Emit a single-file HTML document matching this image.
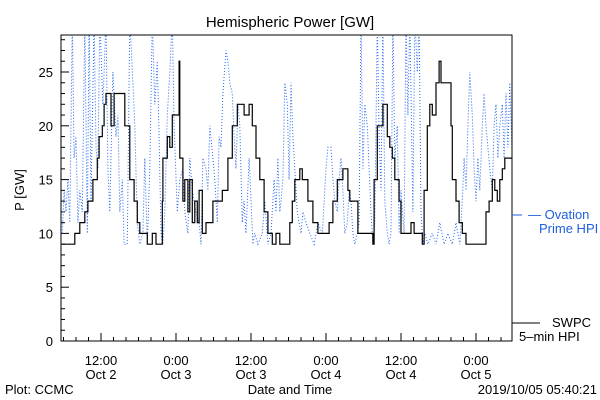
<!DOCTYPE html>
<html><head><meta charset="utf-8"><style>
body{margin:0;background:#fff}
svg{display:block;font-family:"Liberation Sans",sans-serif}
</style></head><body>
<svg id="c" width="600" height="400" viewBox="0 0 600 400">
<rect width="600" height="400" fill="#fff"/>
<text x="290" y="27" font-size="15" text-anchor="middle">Hemispheric Power [GW]</text>
<text transform="translate(24,190) rotate(-90)" font-size="13" text-anchor="middle">P [GW]</text>
<text x="290" y="394" font-size="13" text-anchor="middle">Date and Time</text>
<text x="5" y="394" font-size="13">Plot: CCMC</text>
<text x="597" y="394" font-size="13" text-anchor="end">2019/10/05 05:40:21</text>
<g id="ticks"></g>
<defs><clipPath id="clip"><rect x="61" y="35" width="451" height="306"/></clipPath></defs>
<g clip-path="url(#clip)" id="series"></g>
<rect x="61" y="35" width="451" height="306" fill="none" stroke="#000" stroke-width="1"/>
<line x1="512" y1="215" x2="522" y2="215" stroke="#1f5fe0"/>
<text x="528" y="219" font-size="13" fill="#1f5fe0">— Ovation</text>
<text x="539" y="233" font-size="13" fill="#1f5fe0">Prime HPI</text>
<line x1="512" y1="323" x2="540" y2="323" stroke="#000"/>
<text x="552" y="327" font-size="13">SWPC</text>
<text x="519" y="341" font-size="13">5–min HPI</text>
</svg>
<script>
const yTicks=[0,5,10,15,20,25];
const xTickHours=[6.4,18.4,30.4,42.4,54.4,66.4];
const xTickTimes=["12:00","0:00","12:00","0:00","12:00","0:00"];
const xTickDays=["Oct 2","Oct 3","Oct 3","Oct 4","Oct 4","Oct 5"];
const swpcT=[0.2,2.2,3.0,3.8,4.3,5.1,5.8,6.1,6.6,6.9,7.2,8.0,8.5,9.9,10.2,11.0,11.7,12.2,12.6,13.4,13.8,14.6,15.2,16.2,16.3,17.0,17.4,17.8,18.9,19.0,19.5,19.8,20.3,20.6,21.0,21.4,21.8,22.1,22.6,23.2,24.3,25.8,26.7,27.4,28.2,29.3,30.1,30.6,31.2,31.8,32.5,33.1,33.8,34.4,35.0,35.5,36.6,37.0,37.4,38.2,38.6,39.5,40.3,41.1,41.8,42.9,43.5,44.2,45.1,45.9,46.2,47.5,49.0,49.9,50.1,50.6,51.4,51.5,52.2,52.6,53.0,53.4,54.1,54.4,55.7,56.0,56.5,57.8,58.1,58.6,59.0,59.4,60.0,60.5,60.8,61.9,62.4,62.6,63.2,63.7,64.2,64.8,67.4,68.0,68.5,69.0,69.4,69.8,70.2,70.6,71.0,71.8,72.2];
const swpcV=[9,10,11,12,13,15,17,19,20,22,23,20,23,23,20,15,13,11,10,10,9,10,9,13,17,19,18,21,26,17,13,15,12,15,11,13,11,14,10,11,13,14,17,20,22,21,22,20,17,15,12,10,9,10,9,9,11,13,15,16,15,13,11,10,10,11,13,15,16,14,13,10,10,9,15,20,20,22,19,18,17,15,13,10,10,11,10,9,14,20,22,21,24,26,24,24,20,15,13,11,10,9,9,12,13,15,14,13,15,16,17,17,18];
const ovT=[0.2,0.5,0.8,1.1,1.4,1.8,2.1,2.4,2.7,3.0,3.4,3.8,4.2,4.5,4.8,5.3,5.6,5.9,6.2,6.7,7.2,7.5,7.8,8.3,8.8,9.1,9.4,9.8,10.1,10.6,11.0,11.5,11.8,12.2,12.6,13.1,13.4,13.8,14.2,14.6,15.0,15.4,15.7,16.0,16.3,16.6,17.0,17.4,17.8,18.1,18.6,19.0,19.5,19.8,20.3,20.6,21.0,21.3,21.6,22.1,22.4,22.7,23.2,23.5,23.8,24.3,24.6,25.0,25.3,25.6,25.9,26.4,26.7,27.0,27.4,27.7,28.0,28.3,28.6,29.0,29.3,29.6,30.1,30.4,30.7,31.0,31.5,32.2,32.6,33.1,33.6,34.1,34.4,34.7,35.0,35.2,35.5,35.8,36.2,36.5,36.8,37.1,37.4,37.8,38.1,38.4,38.7,39.2,39.8,40.5,41.1,41.8,42.4,42.7,43.2,43.5,43.8,44.2,44.5,44.8,45.1,45.4,45.8,46.1,46.4,46.7,47.0,47.4,47.7,48.0,48.3,48.6,49.0,49.3,49.6,49.9,50.2,50.6,50.9,51.2,51.5,51.8,52.2,52.5,52.8,53.1,53.4,53.8,54.1,54.4,54.9,55.2,55.5,55.8,56.3,56.6,57.0,57.3,57.6,57.9,58.2,58.7,59.4,60.0,60.6,61.3,61.9,62.6,63.2,63.8,64.2,64.5,64.8,65.1,65.4,65.8,66.1,66.4,66.7,67.0,67.4,67.7,68.0,68.3,68.6,69.0,69.3,69.6,69.9,70.2,70.6,70.9,71.2,71.5,71.8,72.2];
const ovV=[10,14,12,15,11,30,17,19,11,14,12,30,10,30,13,30,18,16,30,22,30,16,12,25,19,21,12,15,9,9,30,24,20,11,9,10,17,9,16,30,22,26,19,10,9,12,21,25,30,20,12,15,16,12,10,17,14,13,12,11,9,17,16,14,20,17,15,11,19,18,23,27,26,24,23,19,16,22,20,11,13,10,17,13,9,10,9,10,13,9,10,15,12,17,12,13,15,24,22,15,24,19,16,12,11,10,12,11,10,9,11,10,16,18,18,15,13,12,15,17,14,10,11,14,13,10,9,10,11,30,16,22,20,16,12,9,11,30,19,14,30,13,10,9,10,30,17,20,10,14,10,30,21,30,12,30,25,30,12,9,10,9,10,9,11,9,10,9,11,9,13,17,14,20,25,21,16,13,17,14,20,23,20,18,16,14,20,22,17,20,22,17,23,18,24,17];
const NS='http://www.w3.org/2000/svg';
const X0=61,X1=512,TMAX=72.16,Y0=341,PX_PER=10.76;
function sx(h){return X0+(h/TMAX)*(X1-X0);}
function sy(v){return Y0-v*PX_PER;}
const ticks=document.getElementById('ticks');
function ln(x1,y1,x2,y2,name){const l=document.createElementNS(NS,'line');l.setAttribute('x1',x1);l.setAttribute('y1',y1);l.setAttribute('x2',x2);l.setAttribute('y2',y2);l.setAttribute('stroke','#000');


ticks.appendChild(l);}
function tx(x,y,s,anchor,name){const t=document.createElementNS(NS,'text');t.setAttribute('x',x);t.setAttribute('y',y);t.setAttribute('font-size','13');t.setAttribute('text-anchor',anchor);t.textContent=s;


ticks.appendChild(t);}
for(let v=0;v<=28;v++){const y=sy(v);const major=v%5===0;ln(X0,y,X0+(major?8:4),y,'y-tick');}
yTicks.forEach(v=>tx(X0-8,sy(v)+5,String(v),'end','y-tick-label'));
for(let h=0.4;h<72;h+=2){const x=sx(h);ln(x,Y0,x,Y0-4,'x-minor-tick');}
xTickHours.forEach((h,i)=>{const x=sx(h);ln(x,Y0,x,Y0-8,'x-major-tick');
tx(x,Y0+24,xTickTimes[i],'middle','x-tick-time');
tx(x,Y0+38,xTickDays[i],'middle','x-tick-day');});
const series=document.getElementById('series');
let d='';ovT.forEach((t,i)=>{d+=(i?'L':'M')+sx(t).toFixed(1)+','+sy(ovV[i]).toFixed(1);});
const p1=document.createElementNS(NS,'path');p1.setAttribute('d',d);p1.setAttribute('fill','none');p1.setAttribute('stroke','#2266ee');p1.setAttribute('stroke-width','1');p1.setAttribute('stroke-dasharray','1 2');


series.appendChild(p1);
let d2='';swpcT.forEach((t,i)=>{const x=sx(t).toFixed(1),y=sy(swpcV[i]).toFixed(1);if(i===0)d2+='M'+x+','+y;else d2+='H'+x+'V'+y;});
const p2=document.createElementNS(NS,'path');p2.setAttribute('d',d2);p2.setAttribute('fill','none');p2.setAttribute('stroke','#000');p2.setAttribute('stroke-width','1.2');


series.appendChild(p2);
</script>
</body></html>
